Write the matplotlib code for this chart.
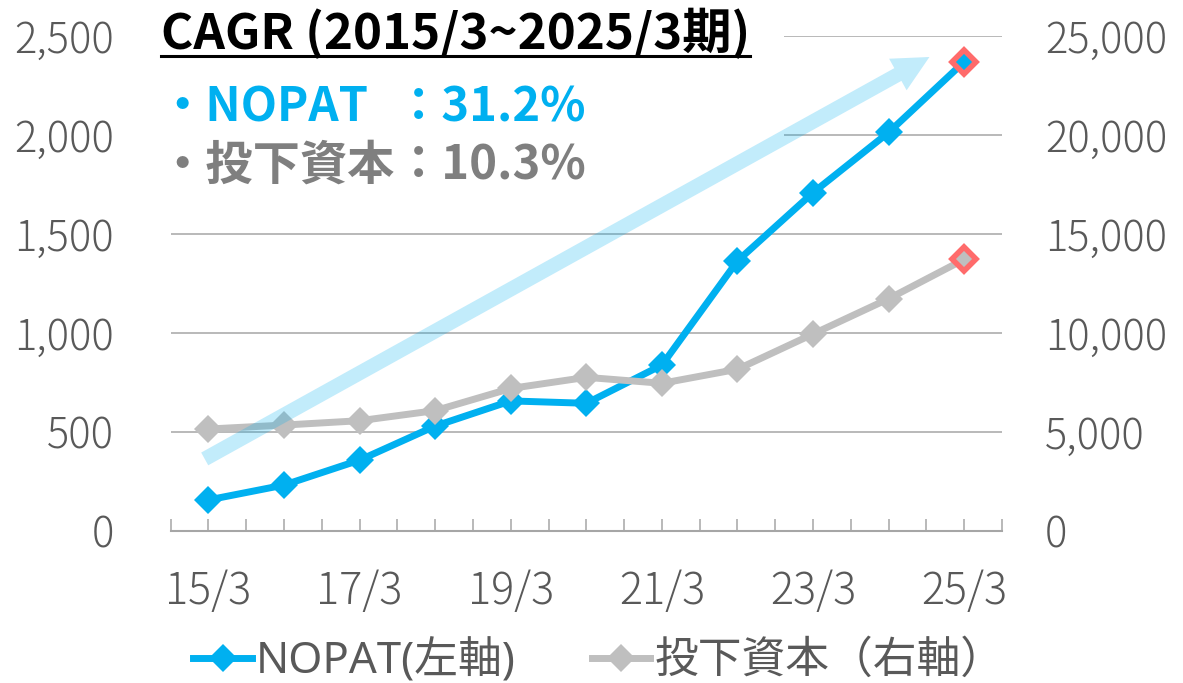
import matplotlib
matplotlib.use('Agg')
import matplotlib.pyplot as plt
from matplotlib.patches import Rectangle
from matplotlib.lines import Line2D
from matplotlib.ticker import FuncFormatter, FixedLocator

plt.rcParams['font.family'] = ['Noto Sans CJK JP', 'DejaVu Sans']

# ---- data ----
periods = ['15/3', '16/3', '17/3', '18/3', '19/3', '20/3',
           '21/3', '22/3', '23/3', '24/3', '25/3']
nopat = [157, 232, 358, 530, 657, 645, 838, 1364, 1709, 2013, 2370]
invested = [5150, 5350, 5570, 6080, 7200, 7760, 7460, 8170, 9950, 11730, 13720]
series_names = ['NOPAT(左軸)', '投下資本（右軸）']
left_ticks = [0, 500, 1000, 1500, 2000, 2500]
right_ticks = [0, 5000, 10000, 15000, 20000, 25000]
title_text = 'CAGR (2015/3~2025/3期)'
cagr_names = ['・NOPAT', '・投下資本']
cagr_values = ['：31.2%', '：10.3%']
arrow_start = (-0.05, 364)
arrow_end = (9.54, 2394)

# ---- style ----
BLUE = '#00B0F0'
GRAY = '#BFBFBF'
RED = '#FF6B6B'
AXIS = '#A6A6A6'
TXT = '#595959'
LATIN_CJK = ['Noto Sans', 'Noto Sans CJK JP', 'DejaVu Sans']

W, H = 1183, 683
fig = plt.figure(figsize=(W / 100, H / 100), dpi=100)
x0, x1, yb, yt = 170.7, 1002, 531, 36
ax = fig.add_axes([x0 / W, (H - yb) / H, (x1 - x0) / W, (yb - yt) / H])
ax2 = ax.twinx()

n = len(periods)
xs = list(range(n))
for a in (ax, ax2):
    a.set_xlim(-0.5, n - 0.5)
    for s in ('left', 'right', 'top'):
        a.spines[s].set_visible(False)
ax2.spines['bottom'].set_visible(False)
ax.spines['bottom'].set_color(AXIS)
ax.spines['bottom'].set_linewidth(1.5)

ax.set_ylim(0, left_ticks[-1])
ax2.set_ylim(0, right_ticks[-1])
ax.yaxis.set_major_locator(FixedLocator(left_ticks))
ax2.yaxis.set_major_locator(FixedLocator(right_ticks))
fmt = FuncFormatter(lambda v, p: f'{int(v):,}')
ax.yaxis.set_major_formatter(fmt)
ax2.yaxis.set_major_formatter(fmt)
ax.tick_params(axis='y', length=0, pad=41, labelsize=30, labelcolor=TXT)
ax2.tick_params(axis='y', length=0, pad=31, labelsize=30, labelcolor=TXT)

ax.set_xticks(xs)
ax.set_xticklabels([p if i % 2 == 0 else '' for i, p in enumerate(periods)])
ax.set_xticks([i - 0.5 for i in range(n + 1)], minor=True)
ax.tick_params(axis='x', which='both', direction='in', length=9, width=1.1,
               color=AXIS, labelsize=31, labelcolor=TXT, pad=27)
ax2.tick_params(axis='x', which='both', length=0)
for lab in ax.get_yticklabels() + ax2.get_yticklabels() + ax.get_xticklabels():
    lab.set_fontweight('light')

ax.grid(axis='y', color=AXIS, linewidth=1.1)
ax.set_axisbelow(True)

# white box behind the CAGR text
box = Rectangle((130 / W, (H - 200) / H), (784 - 130) / W, 200 / H,
                transform=fig.transFigure, facecolor='white', edgecolor='none',
                zorder=1, clip_on=False)
ax.add_patch(box)

l1, = ax.plot(xs, nopat, color=BLUE, lw=5, marker='D', ms=14, mew=0,
              solid_joinstyle='miter', zorder=3, label=series_names[0])
ax.plot(xs[-1], nopat[-1], linestyle='none', marker='D', ms=12, mfc=BLUE,
        mec=RED, mew=4, zorder=4)
l2, = ax2.plot(xs, invested, color=GRAY, lw=5, marker='D', ms=14, mew=0,
               zorder=3, label=series_names[1])
ax2.plot(xs[-1], invested[-1], linestyle='none', marker='D', ms=12, mfc=GRAY,
         mec=RED, mew=4, zorder=4)

ax2.annotate('', xy=arrow_end, xycoords=ax.transData,
             xytext=arrow_start, textcoords=ax.transData,
             arrowprops=dict(arrowstyle='simple,head_length=2.6,head_width=2.6,tail_width=1.05',
                             mutation_scale=10, color=BLUE, alpha=0.24, lw=0,
                             shrinkA=0, shrinkB=0),
             zorder=6)

# texts
t_title = fig.text(161 / W, (H - 49) / H, title_text, fontsize=35.5,
                   fontweight='bold', color='black', va='baseline', ha='left')
t_n1 = fig.text(158 / W, (H - 122) / H, cagr_names[0], fontsize=34, fontweight='bold',
                color=BLUE, va='baseline', ha='left')
t_n2 = fig.text(158 / W, (H - 180) / H, cagr_names[1], fontsize=34, fontweight='bold',
                color='#7F7F7F', va='baseline', ha='left')

leg = fig.legend(handles=[l1, l2], loc='center', bbox_to_anchor=(599 / W, (H - 662) / H),
                 ncol=2, frameon=False, labelcolor=TXT,
                 handlelength=1.33, handletextpad=0.1, columnspacing=1.74,
                 borderaxespad=0, borderpad=0, prop={'family': LATIN_CJK, 'size': 31.5})

fig.canvas.draw()
bb2 = t_n2.get_window_extent()
vx = bb2.x1 / W
fig.text(vx, (H - 122) / H, cagr_values[0], fontsize=34, fontweight='bold',
         color=BLUE, va='baseline', ha='left')
fig.text(vx, (H - 180) / H, cagr_values[1], fontsize=34, fontweight='bold',
         color='#7F7F7F', va='baseline', ha='left')

bb = t_title.get_window_extent()
uy = (H - 56) / H
fig.add_artist(Line2D([bb.x0 / W, bb.x1 / W], [uy, uy], color='black', lw=2.2,
                      transform=fig.transFigure))

fig.savefig('out.png', dpi=100)
